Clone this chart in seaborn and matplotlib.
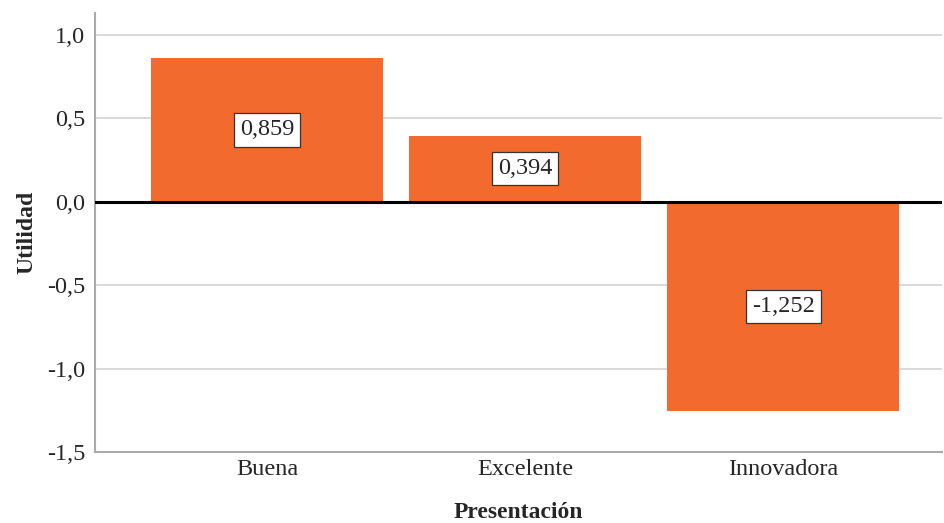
import matplotlib
matplotlib.use("Agg")
import matplotlib.pyplot as plt
import seaborn as sns
import pandas as pd

categories = ["Buena", "Excelente", "Innovadora"]
utilities = [0.859, 0.394, -1.252]
y_ticks = [-1.5, -1.0, -0.5, 0.0, 0.5, 1.0]
y_tick_labels = ["-1,5", "-1,0", "-0,5", "0,0", "0,5", "1,0"]

sns.set_style("white")
plt.rcParams["font.family"] = ["Liberation Serif", "DejaVu Serif"]

df = pd.DataFrame({"Presentación": categories, "Utilidad": utilities})

fig = plt.figure(figsize=(9.44, 5.23), dpi=100)
ax = fig.add_axes([0.1006, 0.1358, 0.8974, 0.8392])

sns.barplot(data=df, x="Presentación", y="Utilidad", order=categories,
            color="#F26A2D", saturation=1, width=0.9, ax=ax, zorder=2)
for p in ax.patches:
    p.set_edgecolor("none")

ax.set_ylim(-1.5, 1.13)
ax.set_xlim(-0.667, 2.616)
ax.set_yticks(y_ticks)
ax.set_yticklabels(y_tick_labels)
ax.yaxis.grid(True, color="#d3d3d3", linewidth=1.2, zorder=0)
ax.set_axisbelow(True)

ax.axhline(0, color="black", linewidth=2.2, zorder=3)

for i, v in enumerate(utilities):
    ax.text(i, v / 2, f"{v:.3f}".replace(".", ","), ha="center", va="center",
            fontsize=17.5, zorder=4,
            bbox=dict(boxstyle="square,pad=0.25", fc="white", ec="#333333", lw=0.9))

for side in ["top", "right"]:
    ax.spines[side].set_visible(False)
for side in ["left", "bottom"]:
    ax.spines[side].set_color("#aaaaaa")
    ax.spines[side].set_linewidth(1.5)

ax.tick_params(axis="both", length=0, labelsize=17.5)
ax.tick_params(axis="y", pad=7)
ax.tick_params(axis="x", pad=5)
ax.set_xlabel("Presentación", fontsize=17, fontweight="bold", labelpad=16)
ax.set_ylabel("Utilidad", fontsize=17, fontweight="bold", labelpad=7)

fig.savefig("out.png", dpi=100)
